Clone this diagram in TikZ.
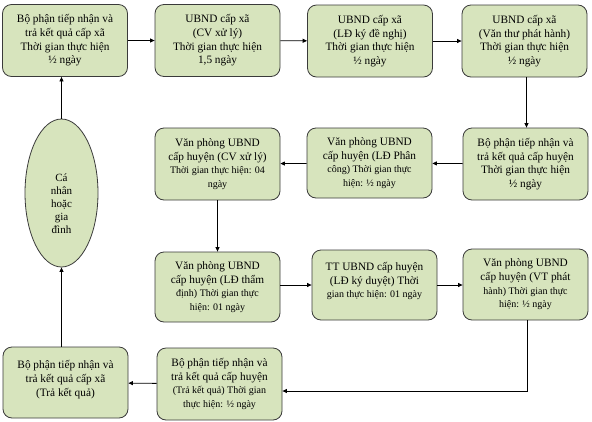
\documentclass[tikz,border=0pt]{standalone}
\usepackage{fontspec}
\setmainfont{Liberation Serif}
\usetikzlibrary{shapes.geometric,arrows.meta}
\definecolor{boxfill}{HTML}{D7E4BD}
\definecolor{boxline}{HTML}{3A3A3A}
\newcommand{\sm}{\fontsize{10pt}{13pt}\selectfont}
\tikzset{
  box/.style={draw=boxline, fill=boxfill, line width=0.8pt, rounded corners=9pt,
    minimum width=125pt, minimum height=72pt, align=center, inner sep=2pt,
    font=\fontsize{11.3pt}{13.7pt}\selectfont},
  oval/.style={ellipse, draw=boxline, fill=boxfill, line width=0.8pt,
    minimum width=73pt, minimum height=148pt, inner sep=0pt},
  ovaltext/.style={align=center, inner sep=0pt, font=\fontsize{11pt}{13pt}\selectfont},
  arr/.style={-{Triangle[length=4.5pt,width=4pt]}, line width=0.8pt, draw=black}
}
\begin{document}
\begin{tikzpicture}[x=1pt,y=-1pt]
\useasboundingbox (0,0) rectangle (592,421);
\node[box] (b1) at (65,40.5) {Bộ phận tiếp nhận và\\ trả kết quả cấp xã\\ Thời gian thực hiện\\ ½ ngày};
\node[box] (b2) at (217.5,40.5) {UBND cấp xã\\ (CV xử lý)\\ Thời gian thực hiện\\ 1,5 ngày};
\node[box] (b3) at (370,41) {UBND cấp xã\\ (LĐ ký đề nghị)\\ Thời gian thực hiện\\ ½ ngày};
\node[box] (b4) at (524.5,41) {UBND cấp xã\\ (Văn thư phát hành)\\ Thời gian thực hiện\\ ½ ngày};
\node[box] (c) at (525.5,164) {Bộ phận tiếp nhận và\\ trả kết quả cấp huyện\\ Thời gian thực hiện\\ ½ ngày};
\node[box, minimum height=70pt] (b) at (369.5,163) {Văn phòng UBND\\ cấp huyện (LĐ Phân\\ {\sm công) Thời gian thực}\\ {\sm hiện: ½ ngày}};
\node[box] (a) at (217.5,164) {Văn phòng UBND\\ cấp huyện (CV xử lý)\\ {\sm Thời gian thực hiện: 04}\\ {\sm ngày}};
\node[box, minimum height=70pt] (d) at (217.5,287) {Văn phòng UBND\\ cấp huyện (LĐ thẩm\\ {\sm định) Thời gian thực}\\ {\sm hiện: 01 ngày}};
\node[box, minimum height=70pt, text depth=10pt] (e) at (374.5,285) {TT UBND cấp huyện\\ (LĐ ký duyệt) Thời\\ {\sm gian thực hiện: 01 ngày}};
\node[box, minimum height=71pt] (f) at (525.5,284.5) {Văn phòng UBND\\ cấp huyện (VT phát\\ {\sm hành) Thời gian thực}\\ {\sm hiện: ½ ngày}};
\node[box] (h) at (219.5,384) {Bộ phận tiếp nhận và\\ trả kết quả cấp huyện\\ {\sm (Trả kết quả) Thời gian}\\ {\sm thực hiện: ½ ngày}};
\node[box, minimum height=71pt, text depth=8pt] (g) at (65.5,382.5) {Bộ phận tiếp nhận và\\ trả kết quả cấp xã\\ (Trả kết quả)};
\node[oval] (el) at (61.5,193) {};
\node[ovaltext] (elt) at (61.5,204) {Cá\\ nhân\\ hoặc\\ gia\\ đình};
\draw[arr] (b1) -- (b2);
\draw[arr] (b2) -- (b3);
\draw[arr] (b3) -- (b4);
\draw[arr] ([xshift=2pt]b4.south) -- ([xshift=2pt]b4.south |- c.north);
\draw[arr] (c) -- (b);
\draw[arr] (b) -- (a);
\draw[arr] (a) -- (d);
\draw[arr] (d.east |- e.west) -- (e.west);
\draw[arr] (e.east) -- (e.east -| f.west);
\draw[arr] ([xshift=2pt]f.south) |- ([yshift=-7pt]h.east);
\draw[arr] (h) -- (g);
\draw[arr] (el.south |- g.north) -- (el.south);
\draw[arr] (el.north) -- (el.north |- b1.south);
\end{tikzpicture}
\end{document}
